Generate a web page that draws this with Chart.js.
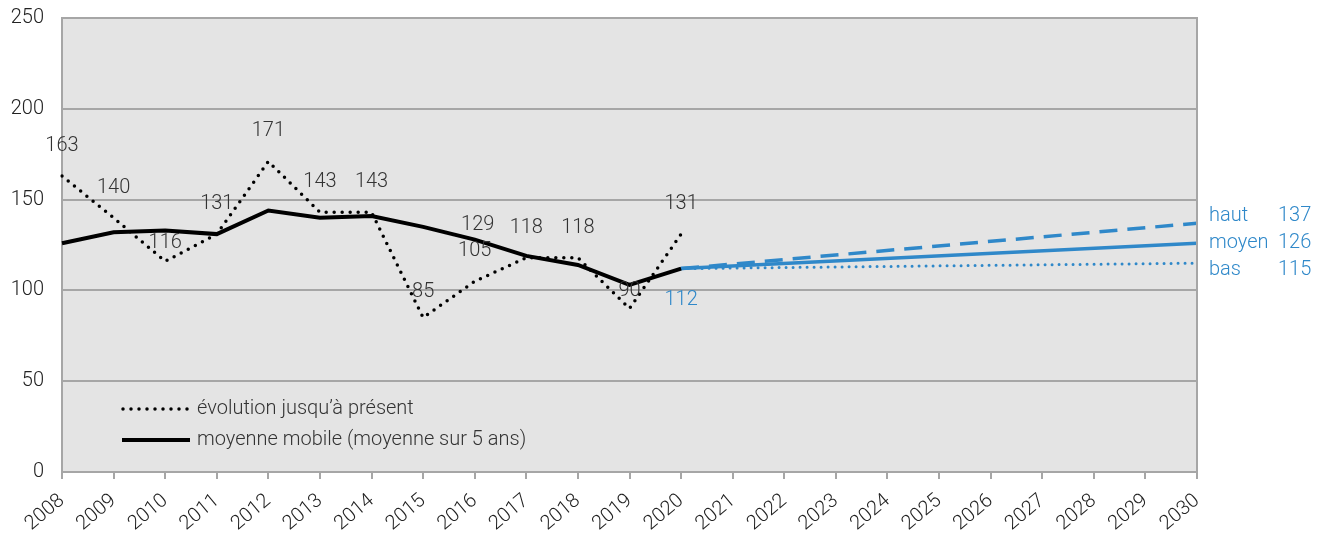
<!DOCTYPE html>
<html>
<head>
<meta charset="utf-8">
<script src="https://cdn.jsdelivr.net/npm/chart.js@4.4.1/dist/chart.umd.min.js"></script>
<style>
  html, body { margin: 0; padding: 0; background: #fff; }
  #wrap { width: 1327px; height: 541px; }
</style>
</head>
<body>
<div id="wrap"><canvas id="chart" width="1327" height="541"></canvas></div>
<script>
const years = ['2008','2009','2010','2011','2012','2013','2014','2015','2016','2017','2018','2019','2020',
               '2021','2022','2023','2024','2025','2026','2027','2028','2029','2030'];
const evolution = [163, 140, 116, 131, 171, 143, 143, 85, 105, 118, 118, 90, 131];
const moyenneMobile = [126, 132, 133, 131, 144, 140, 141, 135, 128, 119, 114, 103, 112];
const moyenneLabels = [null, null, null, null, null, null, null, null, 129, null, null, null, null];
const projStart = 112;
const projHaut = 137;
const projMoyen = 126;
const projBas = 115;
const yTicks = [0, 50, 100, 150, 200, 250];

const BLUE = '#2f88c9';
const FONT = 'Roboto, "Liberation Sans", sans-serif';

// projection: start value in 2020, end value in 2030, gap spanned
function projection(endVal) {
    let arr = years.map(() => null);
    arr[12] = projStart;
    arr[years.length - 1] = endVal;
    return arr;
}

const plotBg = {
    id: 'plotBg',
    beforeDraw(chart) {
        const a = chart.chartArea, c = chart.ctx;
        c.save();
        c.fillStyle = '#e4e4e4';
        c.fillRect(a.left, a.top, a.right - a.left, a.bottom - a.top);
        c.restore();
    },
    afterDatasetsDraw(chart) {
        const a = chart.chartArea, c = chart.ctx;
        c.save();
        c.strokeStyle = '#a6a6a6';
        c.lineWidth = 2;
        c.beginPath();
        c.moveTo(a.left, a.top);
        c.lineTo(a.right, a.top);
        c.lineTo(a.right, a.bottom);
        c.stroke();
        c.restore();
    }
};

const valueLabels = {
    id: 'valueLabels',
    afterDatasetsDraw(chart) {
        const c = chart.ctx;
        c.save();
        c.font = '300 20px ' + FONT;
        c.textAlign = 'center';
        c.textBaseline = 'middle';

        // évolution labels
        let pts = chart.getDatasetMeta(0).data;
        evolution.forEach((v, i) => {
            let p = pts[i];
            let prev = evolution[i - 1], next = evolution[i + 1];
            let isMin = prev != null && next != null && v < prev && v < next;
            let off = isMin ? (v < 88 ? 26 : 18) : 30;
            c.fillStyle = '#333';
            c.fillText(String(v), p.x, p.y - off);
        });

        // moyenne mobile labels
        let mpts = chart.getDatasetMeta(1).data;
        moyenneLabels.forEach((v, i) => {
            if (v == null) return;
            c.fillStyle = '#333';
            c.fillText(String(v), mpts[i].x + 3, mpts[i].y - 15);
        });

        // projection start
        let sp = chart.getDatasetMeta(3).data[12];
        c.fillStyle = BLUE;
        c.fillText(String(projStart), sp.x, sp.y + 31);

        // right side labels
        c.textAlign = 'left';
        const right = [
            { ds: 2, name: 'haut', v: projHaut, dy: -7 },
            { ds: 3, name: 'moyen', v: projMoyen, dy: 0 },
            { ds: 4, name: 'bas', v: projBas, dy: 7 }
        ];
        right.forEach(r => {
            let p = chart.getDatasetMeta(r.ds).data[years.length - 1];
            c.fillText(r.name, p.x + 12, p.y + r.dy);
            c.fillText(String(r.v), p.x + 81, p.y + r.dy);
        });

        // legend inside plot area
        const items = [
            { text: 'évolution jusqu’à présent', dash: [0, 8], w: 3.5, y: 409 },
            { text: 'moyenne mobile (moyenne sur 5 ans)', dash: [], w: 4, y: 440 }
        ];
        items.forEach(it => {
            c.strokeStyle = '#000';
            c.lineWidth = it.w;
            c.lineCap = it.dash.length ? 'round' : 'butt';
            c.setLineDash(it.dash);
            c.beginPath();
            c.moveTo(it.dash.length ? 123 : 122, it.y);
            c.lineTo(190, it.y);
            c.stroke();
            c.setLineDash([]);
            c.fillStyle = '#333';
            c.fillText(it.text, 197, it.y);
        });
        c.restore();
    }
};

new Chart(document.getElementById('chart'), {
    type: 'line',
    data: {
        labels: years,
        datasets: [
            {
                label: 'évolution jusqu’à présent',
                data: evolution,
                borderColor: '#000',
                borderWidth: 3.5,
                borderDash: [0, 8],
                borderCapStyle: 'round',
                pointRadius: 0,
                tension: 0
            },
            {
                label: 'moyenne mobile (moyenne sur 5 ans)',
                data: moyenneMobile,
                borderColor: '#000',
                borderWidth: 4,
                pointRadius: 0,
                tension: 0
            },
            {
                label: 'haut',
                data: projection(projHaut),
                borderColor: BLUE,
                borderWidth: 3.5,
                borderDash: [18, 10],
                pointRadius: 0,
                spanGaps: true
            },
            {
                label: 'moyen',
                data: projection(projMoyen),
                borderColor: BLUE,
                borderWidth: 3.5,
                pointRadius: 0,
                spanGaps: true
            },
            {
                label: 'bas',
                data: projection(projBas),
                borderColor: BLUE,
                borderWidth: 3,
                borderDash: [0, 7],
                borderCapStyle: 'round',
                pointRadius: 0,
                spanGaps: true
            }
        ]
    },
    options: {
        responsive: false,
        animation: false,
        layout: { padding: { top: 18, right: 130, left: 0, bottom: 0 } },
        plugins: {
            legend: { display: false },
            tooltip: { enabled: false }
        },
        scales: {
            x: {
                offset: false,
                afterFit(s) {
                    s.height = 69;
                    s.paddingLeft = 0;
                    s.paddingRight = 0;
                },
                grid: {
                    drawOnChartArea: false,
                    drawTicks: true,
                    tickLength: 7,
                    color: '#a6a6a6',
                    lineWidth: 2
                },
                border: { color: '#a6a6a6', width: 2 },
                ticks: {
                    autoSkip: false,
                    minRotation: 40,
                    maxRotation: 40,
                    padding: 10,
                    color: '#222',
                    font: { family: FONT, size: 20, weight: 300 }
                }
            },
            y: {
                min: 0,
                max: 250,
                afterFit(s) {
                    s.width = 62;
                    s.paddingTop = 0;
                    s.paddingBottom = 0;
                },
                afterBuildTicks(s) { s.ticks = yTicks.map(v => ({ value: v })); },
                grid: {
                    drawTicks: false,
                    color: '#a6a6a6',
                    lineWidth: 2
                },
                border: { color: '#a6a6a6', width: 2 },
                ticks: {
                    padding: 18,
                    color: '#222',
                    font: { family: FONT, size: 20, weight: 300 }
                }
            }
        }
    },
    plugins: [plotBg, valueLabels]
});
</script>
</body>
</html>
